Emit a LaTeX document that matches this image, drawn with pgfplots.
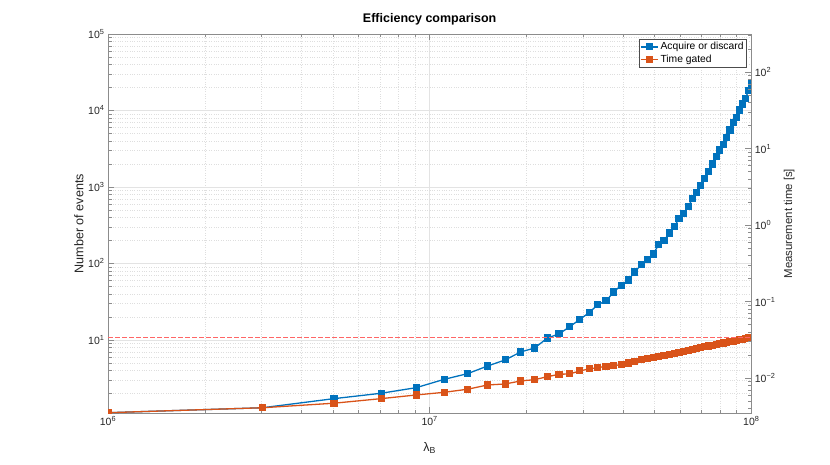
\documentclass[border=0pt]{standalone}
\usepackage{pgfplots}
\pgfplotsset{compat=1.18}
\usepackage{pgfplotstable}
\usepackage{fontspec}
\setmainfont{Liberation Sans}
\definecolor{mblue}{rgb}{0,0.447,0.741}
\definecolor{morange}{rgb}{0.851,0.325,0.098}
\definecolor{thrcol}{rgb}{1,0.40,0.40}
\definecolor{mtxt}{rgb}{0.15,0.15,0.15}
\definecolor{maxis}{rgb}{0.55,0.55,0.55}

\pgfplotstableread{
x blue orange thr
1.0e6 1.12 1.12 10.8
3.0204e6 1.30 1.30 10.8
5.0408e6 1.71 1.49 10.8
7.0612e6 2.01 1.71 10.8
9.0816e6 2.38 1.91 10.8
11.102e6 3.06 2.07 10.8
13.122e6 3.63 2.27 10.8
15.143e6 4.57 2.58 10.8
17.163e6 5.48 2.66 10.8
19.184e6 6.97 2.91 10.8
21.204e6 7.86 3.03 10.8
23.224e6 10.6 3.31 10.8
25.245e6 12.0 3.56 10.8
27.265e6 14.9 3.60 10.8
29.286e6 18.6 3.94 10.8
31.306e6 22.7 4.18 10.8
33.327e6 29.0 4.35 10.8
35.347e6 32.4 4.53 10.8
37.367e6 42.4 4.62 10.8
39.388e6 51.9 4.76 10.8
41.408e6 60.8 5.00 10.8
43.429e6 77.4 5.26 10.8
45.449e6 96.4 5.55 10.8
47.469e6 112 5.72 10.8
49.490e6 133 5.93 10.8
51.510e6 175 6.12 10.8
53.531e6 199 6.34 10.8
55.551e6 250 6.52 10.8
57.571e6 303 6.74 10.8
59.592e6 385 6.93 10.8
61.612e6 453 7.15 10.8
63.633e6 552 7.33 10.8
65.653e6 703 7.55 10.8
67.673e6 842 7.73 10.8
69.694e6 1052 7.95 10.8
71.714e6 1283 8.12 10.8
73.735e6 1603 8.34 10.8
75.755e6 1999 8.52 10.8
77.776e6 2490 8.73 10.8
79.796e6 3047 8.91 10.8
81.816e6 3574 9.12 10.8
83.837e6 4466 9.29 10.8
85.857e6 5562 9.51 10.8
87.878e6 6929 9.67 10.8
89.898e6 8148 9.89 10.8
91.918e6 10161 10.06 10.8
93.939e6 12170 10.27 10.8
95.959e6 14420 10.44 10.8
97.980e6 18240 10.64 10.8
100.0e6 22180 10.80 10.8
}\datatable

\newcommand{\logticklabel}{\pgfmathtruncatemacro\e{round(\tick)}10\textsuperscript{\ifnum\e<0 −\number-\e\else\e\fi}}

\begin{document}
\begin{tikzpicture}
\path[use as bounding box] (0pt,0pt) rectangle (830pt,465pt);
\begin{axis}[
  at={(108pt,51.7pt)}, anchor=south west,
  scale only axis, width=643.3pt, height=379.3pt,
  xmode=log, ymode=log, log basis x=10, log basis y=10,
  xmin=1e6, xmax=1e8, ymin=1.1, ymax=1e5,
  xticklabel={\logticklabel},
  yticklabel={\logticklabel},
  ytick pos=left, xtick pos=both,
  tick align=inside,
  major tick length=6pt, minor tick length=3.5pt,
  axis line style={maxis, line width=0.7pt},
  tick style={maxis, line width=0.6pt},
  ticklabel style={font=\fontsize{10.5}{12}\selectfont, text=mtxt},
  xmajorgrids, ymajorgrids, xminorgrids, yminorgrids,
  major grid style={black!11, line width=0.5pt},
  minor grid style={black!13, dotted, line width=0.5pt},
  title={Efficiency comparison},
  title style={at={(axis description cs:0.5,1)}, anchor=base, yshift=5.5pt, font=\bfseries\fontsize{12.5}{14}\selectfont, text=black},
  xlabel={λ\textsubscript{B}},
  xlabel style={at={(axis description cs:0.5,0)}, anchor=base, yshift=-38.5pt, font=\fontsize{12.5}{14}\selectfont, text=mtxt},
  ylabel={Number of events},
  ylabel style={at={(axis description cs:-0.0384,0.5)}, anchor=base, font=\fontsize{12.6}{14}\selectfont, text=mtxt},
  clip marker paths=true,
  legend cell align=left,
  legend style={at={(axis description cs:0.9928,0.986)}, anchor=north east,
    font=\fontsize{10.3}{12}\selectfont, draw=black!70, line width=0.5pt, fill=white,
    inner sep=1pt, row sep=0pt, nodes={inner sep=1.9pt, text=black}},
]
\addplot[mblue, line width=1.3pt, mark=square*, mark size=2.9pt, mark options={solid, fill=mblue, draw=mblue}] table[x=x,y=blue] {\datatable};
\addlegendentry{Acquire or discard}
\addplot[morange, line width=1.3pt, mark=square*, mark size=2.9pt, mark options={solid, fill=morange, draw=morange}] table[x=x,y=orange] {\datatable};
\addlegendentry{Time gated}
\addplot[thrcol, line width=1.3pt, dash pattern=on 4.5pt off 2.5pt, mark=none] table[x=x,y=thr] {\datatable};
\end{axis}
\begin{axis}[
  at={(108pt,51.7pt)}, anchor=south west,
  scale only axis, width=643.3pt, height=379.3pt,
  xmode=log, ymode=log, log basis x=10, log basis y=10,
  xmin=1e6, xmax=1e8, ymin=0.003479, ymax=316.2,
  axis x line=none, axis y line*=right,
  yticklabel={\logticklabel},
  tick align=inside,
  major tick length=6pt, minor tick length=3.5pt,
  axis line style={maxis, line width=0.7pt},
  tick style={maxis, line width=0.6pt},
  ticklabel style={font=\fontsize{10.5}{12}\selectfont, text=mtxt},
  ylabel={Measurement time [s]},
  ylabel style={at={(axis description cs:1.0633,0.5)}, anchor=base, font=\fontsize{11.4}{14}\selectfont, text=mtxt},
]
\end{axis}
\end{tikzpicture}
\end{document}
